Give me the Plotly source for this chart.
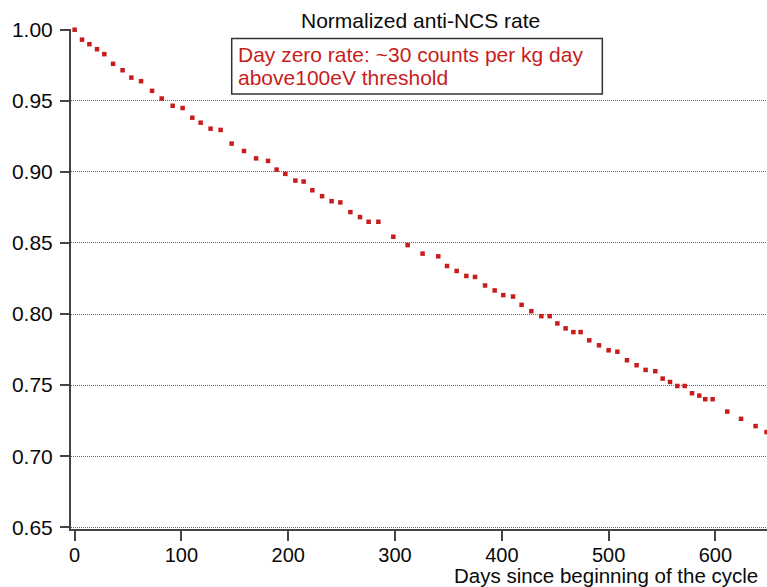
import plotly.graph_objects as go

# ---- data ----
days = [0, 6.9, 13.8, 21.0, 27.8, 36.0, 44.9, 53.1, 62.2, 72.5,
        81.5, 91.8, 101.1, 110.2, 118.0, 127.3, 136.7, 147.0, 158.6, 169.9,
        181.1, 189.1, 197.3, 206.7, 214.4, 222.6, 231.7, 240.6, 248.8, 258.2,
        267.2, 275.3, 284.4, 298.4, 311.8, 325.8, 340.5, 348.7, 357.7, 366.8,
        374.9, 384.3, 393.3, 401.4, 410.5, 418.5, 427.6, 437.0, 444.8, 452.0,
        459.7, 467.0, 473.8, 481.9, 491.0, 500.0, 508.2, 517.2, 526.2, 534.6,
        543.7, 550.6, 557.5, 564.3, 571.2, 578.1, 584.9, 590.5, 597.4, 611.1,
        624.0, 637.6, 647.9]
rate = [1.0000, 0.9930, 0.9898, 0.9863, 0.9828, 0.9760, 0.9715, 0.9663, 0.9638, 0.9570,
        0.9516, 0.9465, 0.9449, 0.9381, 0.9346, 0.9304, 0.9295, 0.9199, 0.9147, 0.9095,
        0.9077, 0.9016, 0.8986, 0.8939, 0.8932, 0.8871, 0.8829, 0.8794, 0.8785, 0.8717,
        0.8682, 0.8649, 0.8649, 0.8544, 0.8485, 0.8425, 0.8406, 0.8338, 0.8303, 0.8268,
        0.8261, 0.8201, 0.8166, 0.8133, 0.8123, 0.8065, 0.8020, 0.7985, 0.7985, 0.7934,
        0.7899, 0.7873, 0.7873, 0.7815, 0.7780, 0.7745, 0.7735, 0.7675, 0.7640, 0.7607,
        0.7598, 0.7546, 0.7522, 0.7494, 0.7494, 0.7443, 0.7426, 0.7401, 0.7401, 0.7314,
        0.7263, 0.7212, 0.7170]
assert len(days) == len(rate)

x_ticks = [0, 100, 200, 300, 400, 500, 600]
y_ticks = [0.65, 0.70, 0.75, 0.80, 0.85, 0.90, 0.95, 1.00]
y_tick_text = ["0.65", "0.70", "0.75", "0.80", "0.85", "0.90", "0.95", "1.00"]

title_text = "Normalized anti-NCS rate"
x_title_text = "Days since beginning of the cycle"
note_line1 = "Day zero rate: ~30 counts per kg day"
note_line2 = "above100eV threshold"

FONT = "Liberation Sans, Arial, sans-serif"
RED = "rgb(200,28,28)"
AXIS = "#444444"
TXT = "#0a0a0a"

fig = go.Figure()
fig.add_trace(go.Scatter(
    x=days, y=rate, mode="markers",
    marker=dict(symbol="square", size=4.5, color=RED, line=dict(width=0)),
    cliponaxis=False, showlegend=False,
))

fig.update_layout(
    width=767, height=587,
    margin=dict(l=71, r=0, t=29, b=58),
    paper_bgcolor="white", plot_bgcolor="white",
    font=dict(family=FONT, size=21, color=TXT),
    showlegend=False,
    xaxis=dict(
        range=[-3.4, 648.3], tickmode="array", tickvals=x_ticks,
        showgrid=False, zeroline=False,
        showline=True, linecolor=AXIS, linewidth=2,
        ticks="outside", ticklen=10, tickwidth=2, tickcolor=AXIS,
        ticklabelstandoff=-3,
        tickfont=dict(family=FONT, size=20, color=TXT),
    ),
    yaxis=dict(
        range=[0.6488, 1.0005], tickmode="array", tickvals=y_ticks, ticktext=y_tick_text,
        showgrid=True, gridcolor="#666666", gridwidth=1, griddash="1px,1px",
        zeroline=False,
        showline=True, linecolor=AXIS, linewidth=2,
        ticks="outside", ticklen=9, tickwidth=2, tickcolor=AXIS,
        ticklabelstandoff=3,
        tickfont=dict(family=FONT, size=21, color=TXT),
    ),
    shapes=[dict(
        type="rect", xref="paper", yref="paper",
        x0=0.2309, x1=0.7634, y0=0.870, y1=0.981,
        line=dict(color="#333333", width=1.5), fillcolor="white", layer="above",
    )],
    annotations=[
        dict(text=title_text, xref="paper", yref="paper", x=0.502, y=1,
             xanchor="center", yanchor="middle", yshift=9, showarrow=False,
             font=dict(family=FONT, size=21, color=TXT)),
        dict(text=x_title_text, xref="paper", yref="paper", x=1, y=0,
             xanchor="right", yanchor="middle", xshift=-7, yshift=-46, showarrow=False,
             font=dict(family=FONT, size=20.5, color=TXT)),
        dict(text=note_line1, xref="paper", yref="paper", x=0.2366, y=0.9496,
             xanchor="left", yanchor="middle", showarrow=False,
             font=dict(family=FONT, size=21, color=RED)),
        dict(text=note_line2, xref="paper", yref="paper", x=0.2366, y=0.903,
             xanchor="left", yanchor="middle", showarrow=False,
             font=dict(family=FONT, size=21, color=RED)),
    ],
)

fig.write_html("out.html")
